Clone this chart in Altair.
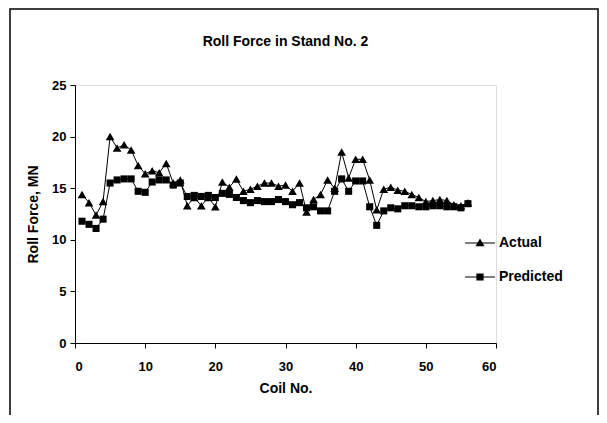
import altair as alt
import pandas as pd

coils = list(range(1, 57))
actual = [14.4, 13.6, 12.4, 13.7, 20.0, 18.9, 19.2, 18.7, 17.2, 16.4,
          16.7, 16.5, 17.4, 15.5, 15.8, 13.3, 14.1, 13.3, 14.1, 13.2,
          15.6, 15.1, 15.9, 14.7, 14.9, 15.2, 15.5, 15.5, 15.2, 15.3,
          14.7, 15.5, 12.7, 13.9, 14.4, 15.8, 15.0, 18.5, 16.0, 17.8,
          17.8, 15.8, 12.9, 14.9, 15.1, 14.8, 14.7, 14.4, 14.1, 13.7,
          13.8, 13.9, 13.8, 13.4, 13.3, 13.6]
predicted = [11.8, 11.5, 11.1, 12.0, 15.5, 15.8, 15.9, 15.9, 14.7, 14.6,
             15.6, 15.8, 15.8, 15.3, 15.5, 14.2, 14.3, 14.2, 14.3, 14.1,
             14.5, 14.4, 14.1, 13.8, 13.6, 13.8, 13.7, 13.7, 13.9, 13.7,
             13.4, 13.6, 13.1, 13.2, 12.8, 12.8, 14.7, 15.9, 14.7, 15.7,
             15.7, 13.2, 11.4, 12.8, 13.1, 13.0, 13.3, 13.3, 13.2, 13.2,
             13.3, 13.3, 13.2, 13.2, 13.1, 13.5]
series_names = ["Actual", "Predicted"]
x_ticks = [0, 10, 20, 30, 40, 50, 60]
y_ticks = [0, 5, 10, 15, 20, 25]
chart_title = "Roll Force in Stand No. 2"

df = pd.DataFrame({
    "coil": coils * 2,
    "force": actual + predicted,
    "series": [series_names[0]] * len(coils) + [series_names[1]] * len(coils),
})

FONT = "Liberation Sans"
W, H = 421, 258

x_enc = alt.X("coil:Q", scale=alt.Scale(domain=[0, 60], nice=False),
              axis=alt.Axis(values=x_ticks, title="Coil No.", grid=False,
                            tickSize=5, labelPadding=12, titlePadding=8,
                            domainColor="black", tickColor="black",
                            labelColor="black", titleColor="black",
                            labelFont=FONT, titleFont=FONT,
                            labelFontSize=13, titleFontSize=14,
                            labelFontWeight="bold", titleFontWeight="bold"))
y_enc = alt.Y("force:Q", scale=alt.Scale(domain=[0, 25], nice=False),
              axis=alt.Axis(values=y_ticks, title="Roll Force, MN", grid=False,
                            tickSize=5, labelPadding=4, titlePadding=11,
                            domainColor="black", tickColor="black",
                            labelColor="black", titleColor="black",
                            labelFont=FONT, titleFont=FONT,
                            labelFontSize=13, titleFontSize=14,
                            labelFontWeight="bold", titleFontWeight="bold"))

base = alt.Chart(df)

lines = base.mark_line(color="black", strokeWidth=1).encode(
    x=x_enc, y=y_enc, detail="series:N")

pts_actual = base.transform_filter(alt.datum.series == "Actual").mark_point(
    shape="triangle-up", filled=True, color="black", size=75, opacity=1
).encode(x="coil:Q", y="force:Q")

pts_pred = base.transform_filter(alt.datum.series == "Predicted").mark_point(
    shape="square", filled=True, color="black", size=50, opacity=1
).encode(x="coil:Q", y="force:Q")

# legend symbols: a thin bar (the line) plus the marker, all filled
path_actual = "M-1,-0.035H1V0.035H-1Z M0,-0.3L0.3,0.22L-0.3,0.22Z"
path_pred = "M-1,-0.035H1V0.035H-1Z M-0.24,-0.24L0.24,-0.24L0.24,0.24L-0.24,0.24Z"

legend_layer = alt.Chart(pd.DataFrame({"series": series_names})).transform_filter(
    "false"
).mark_point(filled=True, opacity=1, color="black").encode(
    shape=alt.Shape("series:N",
                    scale=alt.Scale(domain=series_names, range=[path_actual, path_pred]),
                    legend=alt.Legend(title=None, orient="none", legendX=390, legendY=143,
                                      symbolSize=900, symbolFillColor="black",
                                      symbolOpacity=1, symbolStrokeWidth=0,
                                      labelFont=FONT, labelFontSize=14, labelFontWeight="bold",
                                      labelColor="black", labelOffset=4, rowPadding=12,
                                      padding=0))
)

frame = alt.Chart(pd.DataFrame({"a": [0]})).mark_rect(
    fill=None, stroke="black", strokeWidth=1.5
).encode(x=alt.value(-65), x2=alt.value(523), y=alt.value(-76), y2=alt.value(H + 120))

title_text = alt.Chart(pd.DataFrame({"t": [chart_title]})).mark_text(
    font=FONT, fontSize=14, fontWeight="bold", color="black",
    align="center", baseline="middle"
).encode(text="t:N", x=alt.value(W / 2), y=alt.value(-43))

chart = alt.layer(frame, lines, pts_actual, pts_pred, legend_layer, title_text).properties(
    width=W, height=H,
    autosize=alt.AutoSizeParams(type="none"),
    padding={"left": 67, "top": 77, "right": 103, "bottom": 72},
).configure_view(stroke=None).configure(background="white")

chart.save("out.html", embed_options={"renderer": "svg", "actions": False})
